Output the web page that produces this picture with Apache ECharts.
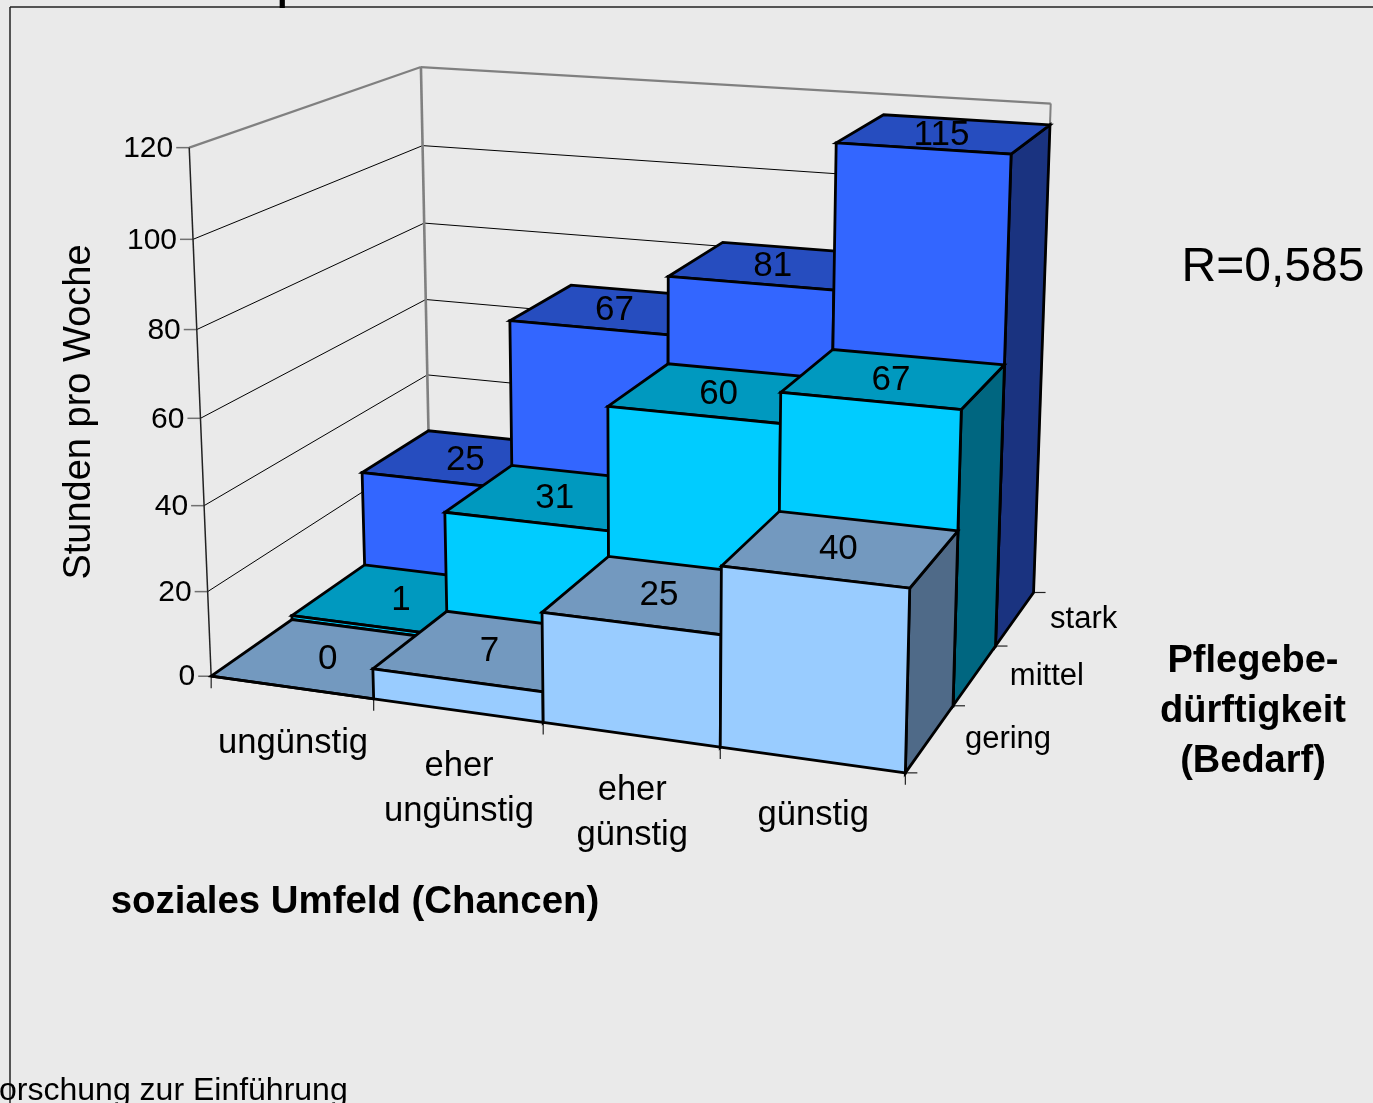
<!DOCTYPE html>
<html>
<head>
<meta charset="utf-8">
<style>html,body{margin:0;padding:0;background:#eaeaea;overflow:hidden}#chart{width:1373px;height:1103px}</style>
<script src="https://cdn.jsdelivr.net/npm/echarts@6/dist/echarts.min.js"></script>
</head>
<body>
<div id="chart"></div>
<script>
// Betreuungsstunden pro Woche nach sozialem Umfeld und Pflegebedürftigkeit
const categories = ['ungünstig', 'eher\nungünstig', 'eher\ngünstig', 'günstig'];
const rows = ['gering', 'mittel', 'stark'];
const valuesGering = [0, 7, 25, 40];
const valuesMittel = [1, 31, 60, 67];
const valuesStark = [25, 67, 81, 115];
const valueTicks = [0, 20, 40, 60, 80, 100, 120];
const valueMax = 120;

const rowValues = [valuesGering, valuesMittel, valuesStark];
// front, top and side shades of each row's columns
const rowShades = [
  ['#99ccff', '#7399bf', '#4f6a88'],
  ['#00ccff', '#0099bf', '#006680'],
  ['#3366ff', '#264dbf', '#1a3380']
];

const FONT = '"Liberation Sans", Arial, sans-serif';
const INK = '#000';

// Box positions as [width, depth, height] (each 0..1) and where they appear on the page.
const boxAnchors = [
  [[0, 0, 0], [211, 677]],
  [[1, 0, 0], [905, 772]],
  [[1, 1, 0], [1035, 592.5]],
  [[0, 1, 0], [430, 521]],
  [[0, 0, 1], [190, 147]],
  [[0, 1, 1], [421, 67]],
  [[1, 1, 1], [1050, 102]],
  [[0.25, 0, 0], [373, 700]],
  [[0.5, 0, 0], [543, 722]],
  [[0.75, 0, 0], [721, 748]],
  [[1, 1 / 3, 0], [953, 704.5]],
  [[1, 2 / 3, 0], [996, 645]],
  [[0, 0, 1 / 6], [207, 592]],
  [[0, 0, 2 / 6], [204, 504.5]],
  [[0, 0, 3 / 6], [201, 417]],
  [[0, 0, 4 / 6], [197, 329]],
  [[0, 0, 5 / 6], [193, 238.5]],
  [[0, 1, 5 / 6], [422, 146]],
  [[0, 1, 4 / 6], [424, 224]],
  [[0, 1, 3 / 6], [426, 301]],
  [[0, 1, 2 / 6], [428, 375]],
  [[1, 0, 1 / 3], [909, 588]],
  [[1, 1 / 3, 1 / 3], [957, 530]],
  [[0.75, 0, 1 / 3], [722, 567]],
  [[0.75, 1 / 3, 0.558], [780, 395]],
  [[1, 1 / 3, 0.558], [962, 411]],
  [[1, 2 / 3, 0.558], [1003, 366]],
  [[0.75, 2 / 3, 0.558], [833, 352]],
  [[0.75, 2 / 3, 0.958], [838, 143]],
  [[1, 2 / 3, 0.958], [1012, 155]],
  [[1, 1, 0.958], [1050, 124]],
  [[0.75, 1, 0.958], [882, 114]]
];

// Least-squares perspective camera through the box anchors.
function solveCamera(anchors) {
  const n = 11, A = [], b = [];
  anchors.forEach(([[u, d, v], [px, py]]) => {
    const x = px / 1000, y = py / 1000;
    A.push([u, d, v, 1, 0, 0, 0, 0, -x * u, -x * d, -x * v]); b.push(x);
    A.push([0, 0, 0, 0, u, d, v, 1, -y * u, -y * d, -y * v]); b.push(y);
  });
  const M = [];
  for (let i = 0; i < n; i++) {
    M.push(new Array(n + 1).fill(0));
    for (let j = 0; j < n; j++) A.forEach(r => { M[i][j] += r[i] * r[j]; });
    A.forEach((r, k) => { M[i][n] += r[i] * b[k]; });
  }
  for (let c = 0; c < n; c++) {
    let piv = c;
    for (let r = c + 1; r < n; r++) if (Math.abs(M[r][c]) > Math.abs(M[piv][c])) piv = r;
    [M[c], M[piv]] = [M[piv], M[c]];
    for (let r = 0; r < n; r++) {
      if (r === c) continue;
      const f = M[r][c] / M[c][c];
      for (let k = c; k <= n; k++) M[r][k] -= f * M[c][k];
    }
  }
  return M.map((r, i) => r[n] / r[i]);
}
const cam = solveCamera(boxAnchors);
function project(u, d, v) {
  const w = cam[8] * u + cam[9] * d + cam[10] * v + 1;
  return [
    1000 * (cam[0] * u + cam[1] * d + cam[2] * v + cam[3]) / w,
    1000 * (cam[4] * u + cam[5] * d + cam[6] * v + cam[7]) / w
  ];
}

// Turn a cartesian point of the hidden grid into normalised box coordinates.
function toBox(params, api, catIndex, value) {
  const rect = params.coordSys;
  const p = api.coord([catIndex, value]);
  return [(p[0] - rect.x) / rect.width, 1 - (p[1] - rect.y) / rect.height];
}

function line(a, b, stroke, lineWidth) {
  return {
    type: 'line',
    shape: { x1: a[0], y1: a[1], x2: b[0], y2: b[1] },
    style: { stroke, lineWidth, lineCap: 'butt' },
    silent: true
  };
}
function label(text, x, y, fontSize, align, verticalAlign, extra) {
  return Object.assign({
    type: 'text',
    z2: 100,
    style: { text, x, y, fill: INK, fontFamily: FONT, fontSize, align, verticalAlign, lineHeight: 45 }
  }, extra || {});
}

// Walls, ticks and tick labels of the box.
function renderFrame(params, api) {
  const kids = [];
  const depthStep = 1 / rows.length;
  const catStep = 1 / categories.length;
  valueTicks.forEach(t => {
    const v = toBox(params, api, 0, t)[1];
    const top = t === valueMax;
    const a = project(0, 0, v), b = project(0, 1, v), c = project(1, 1, v);
    kids.push(line(a, b, top ? '#808080' : '#000', top ? 2.2 : 1));
    kids.push(line(b, c, top ? '#808080' : '#000', top ? 2.2 : 1));
    kids.push(line(a, [a[0] - 13, a[1]], '#707070', 1.5));
    kids.push(label(String(t), a[0] - 16, a[1] + 1, 30, 'right', 'middle'));
  });
  kids.push(line(project(0, 0, 0), project(0, 0, 1), '#222', 1.5));
  kids.push(line(project(0, 1, 0), project(0, 1, 1), '#808080', 2.6));
  kids.push(line(project(1, 1, 0), project(1, 1, 1), '#808080', 2));
  for (let i = 0; i <= categories.length; i++) {
    const p = project(i * catStep, 0, 0);
    kids.push(line(p, [p[0], p[1] + 12], '#222', 1.2));
  }
  categories.forEach((name, i) => {
    const c = project((i + 0.5) * catStep, 0, 0);
    kids.push(label(name, c[0] + 1.5, c[1] + 33.5, 34.6, 'center', 'top'));
  });
  for (let j = 0; j <= rows.length; j++) {
    const p = project(1, j * depthStep, 0);
    kids.push(line(p, [p[0] + 12, p[1]], '#222', 1.2));
  }
  rows.forEach((name, j) => {
    const m = project(1, (j + 0.5) * depthStep, 0);
    kids.push(label(name, m[0] + 35, m[1] + 1, 31, 'left', 'middle'));
  });
  return { type: 'group', children: kids };
}

// One column of a row: side, top and front faces with its value on the top face.
function renderColumn(row) {
  return function (params, api) {
    const i = api.value(0), value = api.value(1);
    const half = api.size([1, 0])[0] / params.coordSys.width / 2;
    const [cu, h] = toBox(params, api, i, value);
    const u0 = cu - half, u1 = cu + half;
    const d0 = row / rows.length, d1 = (row + 1) / rows.length;
    const shade = rowShades[row];
    const face = (pts, fill) => ({
      type: 'polygon',
      shape: { points: pts },
      style: { fill, stroke: '#000', lineWidth: 2.8, lineJoin: 'miter' }
    });
    const side = face([project(u1, d0, 0), project(u1, d1, 0), project(u1, d1, h), project(u1, d0, h)], shade[2]);
    const top = face([project(u0, d0, h), project(u1, d0, h), project(u1, d1, h), project(u0, d1, h)], shade[1]);
    const front = face([project(u0, d0, 0), project(u1, d0, 0), project(u1, d0, h), project(u0, d0, h)], shade[0]);
    const c = project(cu, (d0 + d1) / 2, h);
    const text = label(String(value), c[0] - 3.5, c[1] + 1.5, 35, 'center', 'middle');
    return { type: 'group', children: [side, top, front, text] };
  };
}

const columnSeries = rows.map((name, row) => ({ name, row })).reverse().map(({ name, row }) => ({
  type: 'custom',
  name,
  coordinateSystem: 'cartesian2d',
  renderItem: renderColumn(row),
  encode: { x: 0, y: 1 },
  clip: false,
  animation: false,
  data: rowValues[row].map((v, i) => [i, v])
}));

const chart = echarts.init(document.getElementById('chart'));
chart.setOption({
  backgroundColor: '#eaeaea',
  animation: false,
  grid: { left: 0, top: 0, width: 400, height: 120, containLabel: false, show: false },
  xAxis: { type: 'category', data: categories, show: false },
  yAxis: { type: 'value', min: 0, max: valueMax, interval: 20, show: false },
  series: [{
    type: 'custom',
    name: 'Achsen',
    coordinateSystem: 'cartesian2d',
    renderItem: renderFrame,
    clip: false,
    animation: false,
    data: [[0, 0]]
  }].concat(columnSeries),
  graphic: [
    { type: 'line', shape: { x1: 10, y1: 7, x2: 1373, y2: 7 }, style: { stroke: '#222', lineWidth: 1.5 } },
    { type: 'line', shape: { x1: 10, y1: 7, x2: 10, y2: 1103 }, style: { stroke: '#222', lineWidth: 1.5 } },
    { type: 'text', x: 277, y: 9, style: { text: 'p', font: 'bold 38px ' + FONT, fill: INK, verticalAlign: 'bottom' } },
    { type: 'text', x: 80, y: 412, rotation: Math.PI / 2, style: { text: 'Stunden pro Woche', font: '38px ' + FONT, fill: INK, align: 'center', verticalAlign: 'middle' } },
    { type: 'text', x: 355, y: 902, style: { text: 'soziales Umfeld (Chancen)', font: 'bold 38.4px ' + FONT, fill: INK, align: 'center', verticalAlign: 'middle' } },
    { type: 'text', x: 1253, y: 711.5, style: { text: 'Pflegebe-\ndürftigkeit\n(Bedarf)', fontFamily: FONT, fontWeight: 'bold', fontSize: 38, lineHeight: 50, fill: INK, align: 'center', verticalAlign: 'middle' } },
    { type: 'text', x: 1273, y: 268, style: { text: 'R=0,585', font: '48px ' + FONT, fill: INK, align: 'center', verticalAlign: 'middle' } },
    { type: 'text', x: -20.5, y: 1091, style: { text: 'Forschung zur Einführung', font: '32px ' + FONT, fill: INK, verticalAlign: 'middle' } }
  ]
});
</script>
</body>
</html>
